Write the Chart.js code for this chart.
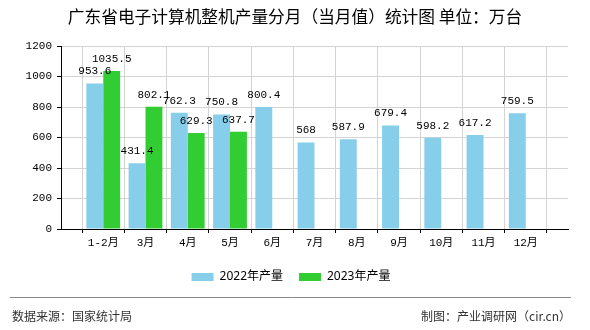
<!DOCTYPE html>
<html>
<head>
<meta charset="utf-8">
<script src="https://cdn.jsdelivr.net/npm/chart.js@4"></script>
<style>
    body { margin: 0; background: #fff; }
    #wrap { width: 590px; height: 330px; position: relative; }
</style>
</head>
<body>
<div id="wrap"><canvas id="chart"></canvas></div>
<script>
// Chart data
const months = ['1-2月', '3月', '4月', '5月', '6月', '7月', '8月', '9月', '10月', '11月', '12月'];
const output2022 = [953.6, 431.4, 762.3, 750.8, 800.4, 568, 587.9, 679.4, 598.2, 617.2, 759.5];
const output2023 = [1035.5, 802.1, 629.3, 637.7];
const yTicks = [0, 200, 400, 600, 800, 1000, 1200];

const titleText = '广东省电子计算机整机产量分月（当月值）统计图 单位：万台';
const sourceText = '数据来源：国家统计局';
const makerText = '制图：产业调研网（cir.cn）';

const monoFont = "'Liberation Mono', 'Noto Sans CJK SC', monospace";

// empty slot on both ends of the x axis, like the original
const labels = [''].concat(months, ['']);
function padSeries(values) {
    const out = [null];
    for (let i = 0; i < months.length; i++) {
        out.push(i < values.length ? values[i] : null);
    }
    out.push(null);
    return out;
}

// value labels above bars + title + footer
const decorPlugin = {
    id: 'decor',
    afterDatasetsDraw(chart) {
        const ctx = chart.ctx;
        ctx.save();
        ctx.font = '11px ' + monoFont;
        ctx.fillStyle = '#000';
        ctx.textAlign = 'center';
        ctx.textBaseline = 'middle';
        chart.data.datasets.forEach((ds, di) => {
            const meta = chart.getDatasetMeta(di);
            meta.data.forEach((bar, i) => {
                const v = ds.data[i];
                if (v === null || v === undefined) return;
                ctx.fillText(String(v), bar.x, bar.y - 12);
            });
        });
        ctx.restore();
    },
    afterDraw(chart) {
        const ctx = chart.ctx;
        ctx.save();
        ctx.fillStyle = '#000';
        ctx.font = "16.7px 'Noto Sans CJK SC', sans-serif";
        ctx.textAlign = 'center';
        ctx.textBaseline = 'middle';
        ctx.fillText(titleText, 295, 17);

        // footer rule
        ctx.strokeStyle = '#888';
        ctx.lineWidth = 1;
        ctx.beginPath();
        ctx.moveTo(10, 297.5);
        ctx.lineTo(571, 297.5);
        ctx.stroke();

        ctx.fillStyle = '#333';
        ctx.font = "12px 'Noto Sans CJK SC', sans-serif";
        ctx.textAlign = 'left';
        ctx.fillText(sourceText, 12, 316);
        ctx.textAlign = 'right';
        ctx.fillText(makerText, 571, 316);
        ctx.restore();
    }
};

const ctx = document.getElementById('chart');
new Chart(ctx, {
    type: 'bar',
    data: {
        labels: labels,
        datasets: [
            {
                label: '2022年产量',
                data: padSeries(output2022),
                backgroundColor: '#87CEEB'
            },
            {
                label: '2023年产量',
                data: padSeries(output2023),
                backgroundColor: '#32CD32'
            }
        ]
    },
    options: {
        responsive: true,
        maintainAspectRatio: false,
        animation: false,
        datasets: {
            bar: { categoryPercentage: 0.8, barPercentage: 1.0 }
        },
        layout: {
            padding: { top: 46, right: 22, left: 14, bottom: 37 }
        },
        plugins: {
            title: { display: false },
            tooltip: { enabled: false },
            legend: {
                position: 'bottom',
                labels: {
                    boxWidth: 22,
                    boxHeight: 8,
                    padding: 16,
                    color: '#000',
                    font: { family: "'Noto Sans', 'Noto Sans CJK SC', sans-serif", size: 12 }
                }
            }
        },
        scales: {
            x: {
                offset: false,
                afterFit: function(scale) { scale.height = 26; },
                grid: {
                    color: '#d3d3d3',
                    tickColor: '#000',
                    tickLength: 4
                },
                border: { color: '#000' },
                ticks: {
                    color: '#000',
                    padding: 3,
                    autoSkip: false,
                    maxRotation: 0,
                    font: { family: monoFont, size: 11 }
                }
            },
            y: {
                min: 0,
                max: 1200,
                afterFit: function(scale) { scale.width = 47; },
                afterBuildTicks: function(scale) {
                    scale.ticks = yTicks.map(v => ({ value: v }));
                },
                grid: {
                    color: '#d3d3d3',
                    tickColor: '#000',
                    tickLength: 4
                },
                border: { color: '#000' },
                ticks: {
                    color: '#000',
                    padding: 5,
                    font: { family: monoFont, size: 11 },
                    callback: function(value) { return String(value); }
                }
            }
        }
    },
    plugins: [decorPlugin]
});
</script>
</body>
</html>
